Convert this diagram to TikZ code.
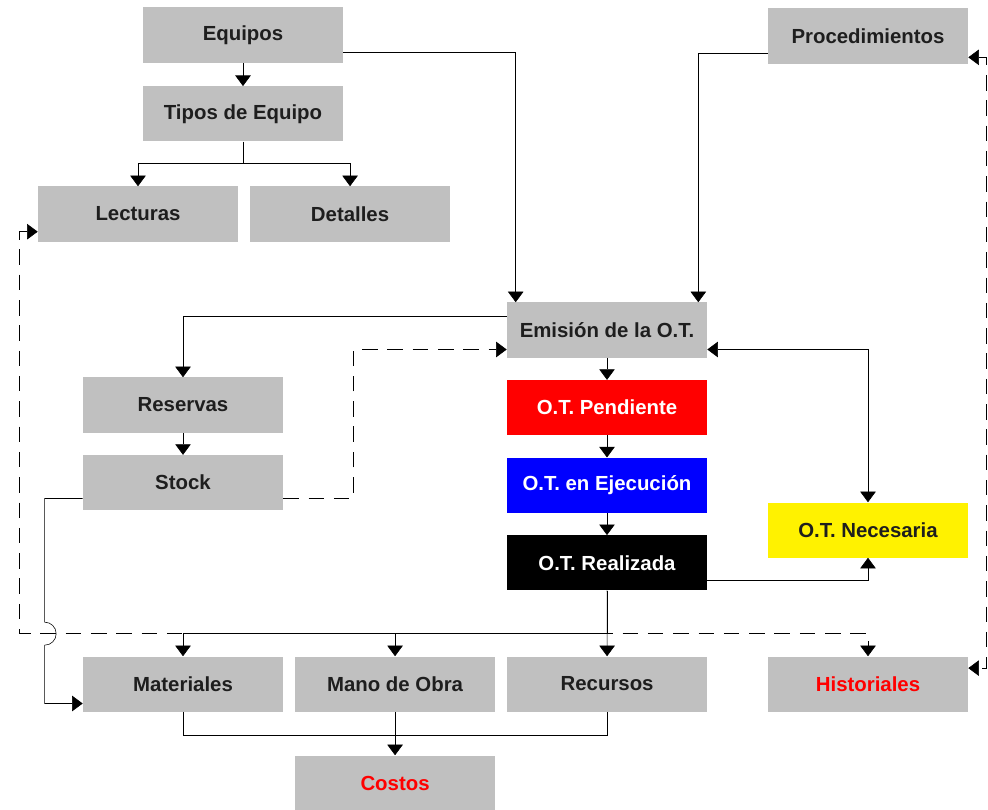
\documentclass[tikz,border=0pt]{standalone}
\usepackage{fontspec}
\setmainfont{Liberation Sans}
\usetikzlibrary{positioning, arrows.meta, calc}
\definecolor{boxgray}{HTML}{C0C0C0}
\definecolor{textgray}{HTML}{1E1E1E}
\tikzset{
	x=0.025cm, y=-0.025cm,
	node distance=1.94cm,
	>={Triangle[width=11pt,length=7.5pt]},
	line width=1pt,
	box/.style={fill=boxgray, minimum width=5cm, minimum height=1.375cm, inner sep=0pt, text=textgray, font=\bfseries\fontsize{14.5}{16}\selectfont},
	dashline/.style={dash pattern=on 11pt off 7pt}}

\begin{document}
\begin{tikzpicture}
		\useasboundingbox (0,0) rectangle (988,810);

		\node[box] (Equipos) at (243,35) {Equipos};
		\node[box, below of=Equipos, node distance=1.97cm] (Tipos) {Tipos de Equipo};
		\node[box] (Lecturas) at (138,214) {Lecturas};
		\node[box, right of=Lecturas, node distance=5.3cm] (Detalles) {Detalles};
		\node[box] (Procedimientos) at (868,36) {Procedimientos};
		\node[box] (Emision) at (607,330) {Emisión de la O.T.};
		\node[box, fill=red, text=white, below of=Emision] (Pendiente) {O.T. Pendiente};
		\node[box, fill=blue, text=white, below of=Pendiente] (Ejecucion) {O.T. en Ejecución};
		\node[box, fill=black, text=white, below of=Ejecucion] (Realizada) {O.T. Realizada};
		\node[box, fill=yellow] (Necesaria) at (868,530) {O.T. Necesaria};
		\node[box] (Reservas) at (183,405) {Reservas};
		\node[box, below of=Reservas] (Stock) {Stock};
		\node[box] (Materiales) at (183,684) {Materiales};
		\node[box, right of=Materiales, node distance=5.3cm] (Mano) {Mano de Obra};
		\node[box, right of=Mano, node distance=5.3cm] (Recursos) {Recursos};
		\node[box, text=red] (Historiales) at (868,684) {Historiales};
		\node[box, text=red, below of=Mano, node distance=2.475cm] (Costos) {Costos};

		\draw[->] (Equipos) -- (Tipos);
		\draw (Tipos.south) -- ++(0,22) coordinate (split);
		\draw[->] (split) -| (Lecturas.north);
		\draw[->] (split) -| (Detalles.north);
		\draw[->] (Equipos.-10) -| ([xshift=0.225cm]Emision.north west);
		\draw[->] (Procedimientos.190) -| ([xshift=-0.225cm]Emision.north east);
		\draw[->] (Emision.172) -| (Reservas.north);
		\draw[->] (Reservas) -- (Stock);
		\draw[->] (Emision) -- (Pendiente);
		\draw[->] (Pendiente) -- (Ejecucion);
		\draw[->] (Ejecucion) -- (Realizada);
		\draw[<->] (Emision.-11) -| (Necesaria.north);
		\draw[->] (Realizada.-10) -| (Necesaria.south);
		\draw[->] (Realizada) -- (Recursos);
		\draw (Realizada.south) -- ++(0,43) coordinate (fan);
		\draw[->] (fan) -| (Materiales.north);
		\draw[->] (fan) -| (Mano.north);
		\draw (Materiales.south) -- ++(0,23) -| (Recursos.south);
		\draw[->] (Mano) -- (Costos);

		\draw[->] (Stock.189) -- ++(-38,0) coordinate (sk) -- ($(sk |- fan)+(0,-11.5)$)
			arc[start angle=90, end angle=-90, radius=0.2875cm] |- (Materiales.191);
		\draw[dashline, ->] (Stock.-9) -- ++(70,0) |- (Emision.191);
		\coordinate (dashjoin) at (Historiales.north |- fan);
		\draw[dashline, <->] (Lecturas.190) -- ++(-18,0) |- (dashjoin) -- (Historiales.north);
		\draw[dashline, <->] (Procedimientos.-12) -- ++(18,0) |- (Historiales.9);
	\end{tikzpicture}
\end{document}
